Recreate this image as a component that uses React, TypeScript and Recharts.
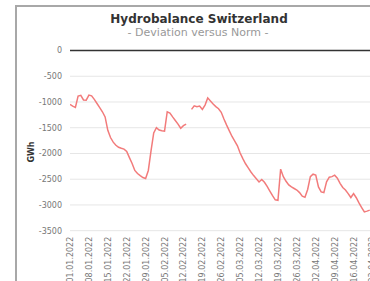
import { LineChart, Line, XAxis, YAxis, CartesianGrid, ReferenceLine } from 'recharts';

// daily deviation (GWh) from 01.01.2022, null = missing day
const deviation: (number | null)[] = [
  -1047, -1080, -1105, -885, -870, -960, -965, -866, -880, -950,
  -1030, -1110, -1190, -1290, -1550, -1690, -1780, -1840, -1880, -1900,
  -1915, -1960, -2080, -2195, -2330, -2390, -2430, -2467, -2485, -2330,
  -1950, -1600, -1500, -1545, -1560, -1565, -1190, -1215, -1290, -1360,
  -1430, -1510, -1460, -1430, null, -1144, -1074, -1090, -1080, -1144,
  -1060, -920, -980, -1040, -1090, -1130, -1200, -1330, -1450, -1560,
  -1670, -1760, -1850, -1990, -2100, -2200, -2280, -2360, -2430, -2490,
  -2553, -2506, -2560, -2640, -2730, -2820, -2900, -2909, -2305, -2450,
  -2540, -2610, -2650, -2680, -2710, -2760, -2830, -2850, -2700, -2450,
  -2402, -2420, -2650, -2747, -2760, -2550, -2460, -2450, -2422, -2480,
  -2580, -2660, -2710, -2780, -2856, -2778, -2860, -2960, -3050, -3136,
  -3120, -3100,
];

const dateLabels = [
  '01.01.2022', '08.01.2022', '15.01.2022', '22.01.2022', '29.01.2022',
  '05.02.2022', '12.02.2022', '19.02.2022', '26.02.2022', '05.03.2022',
  '12.03.2022', '19.03.2022', '26.03.2022', '02.04.2022', '09.04.2022',
  '16.04.2022', '23.04.2022', '30.04.2022', '07.05.2022',
];

const yTicks = [0, -500, -1000, -1500, -2000, -2500, -3000, -3500];

const data = deviation.map((v, i) => ({ day: i, value: v }));
const xTicks = dateLabels.map((_, i) => i * 7);

const FONT = '"DejaVu Sans", Verdana, sans-serif';

function DateTick({ x, y, payload }: any) {
  const label = dateLabels[Math.round(payload.value / 7)];
  return (
    <text
      x={x}
      y={y}
      dx={-6}
      dy={3}
      transform={`rotate(-90 ${x} ${y})`}
      textAnchor="end"
      fill="#777"
      fontSize={8}
      fontFamily={FONT}
    >
      {label}
    </text>
  );
}

export default function App() {
  return (
    <div style={{ position: 'absolute', left: 0, top: 0, width: 370, height: 281, overflow: 'hidden', background: '#fff' }}>
      <div
        style={{
          position: 'absolute',
          left: 15,
          top: 5,
          width: 500,
          height: 400,
          border: '2px solid #a8a8a8',
          boxSizing: 'border-box',
        }}
      />
      <div
        style={{
          position: 'absolute',
          left: 0,
          top: 11,
          width: 398,
          textAlign: 'center',
          fontFamily: FONT,
          fontWeight: 'bold',
          fontSize: 12,
          color: '#333',
          lineHeight: '16px',
        }}
      >
        Hydrobalance Switzerland
      </div>
      <div
        style={{
          position: 'absolute',
          left: 0,
          top: 26,
          width: 396,
          textAlign: 'center',
          fontFamily: FONT,
          fontSize: 11,
          color: '#999',
          lineHeight: '14px',
        }}
      >
        - Deviation versus Norm -
      </div>
      <div
        style={{
          position: 'absolute',
          left: 31,
          top: 152,
          transform: 'translate(-50%, -50%) rotate(-90deg)',
          fontFamily: FONT,
          fontWeight: 'bold',
          fontSize: 8,
          color: '#333',
          whiteSpace: 'nowrap',
        }}
      >
        GWh
      </div>
      <div style={{ position: 'absolute', left: 0, top: 0 }}>
        <LineChart width={420} height={281} data={data} margin={{ top: 50.5, right: 0, left: 10, bottom: 0 }}>
          <CartesianGrid vertical={false} stroke="#e6e6e6" />
          <XAxis
            dataKey="day"
            type="number"
            domain={[0, 129.6]}
            ticks={xTicks}
            interval={0}
            allowDataOverflow
            axisLine={false}
            tickLine={false}
            tickSize={0}
            tickMargin={0}
            height={50.3}
            tick={<DateTick />}
          />
          <YAxis
            domain={[-3500, 0]}
            ticks={yTicks}
            interval={0}
            width={60}
            axisLine={false}
            tickLine={false}
            tickSize={0}
            tickMargin={8}
            tick={{ fill: '#777', fontSize: 8, fontFamily: FONT }}
          />
          <ReferenceLine y={0} stroke="#333" strokeWidth={1.5} x1={undefined} />
          <Line
            type="linear"
            dataKey="value"
            stroke="#f27b7b"
            strokeWidth={1.5}
            dot={false}
            isAnimationActive={false}
            connectNulls={false}
          />
        </LineChart>
      </div>
    </div>
  );
}
